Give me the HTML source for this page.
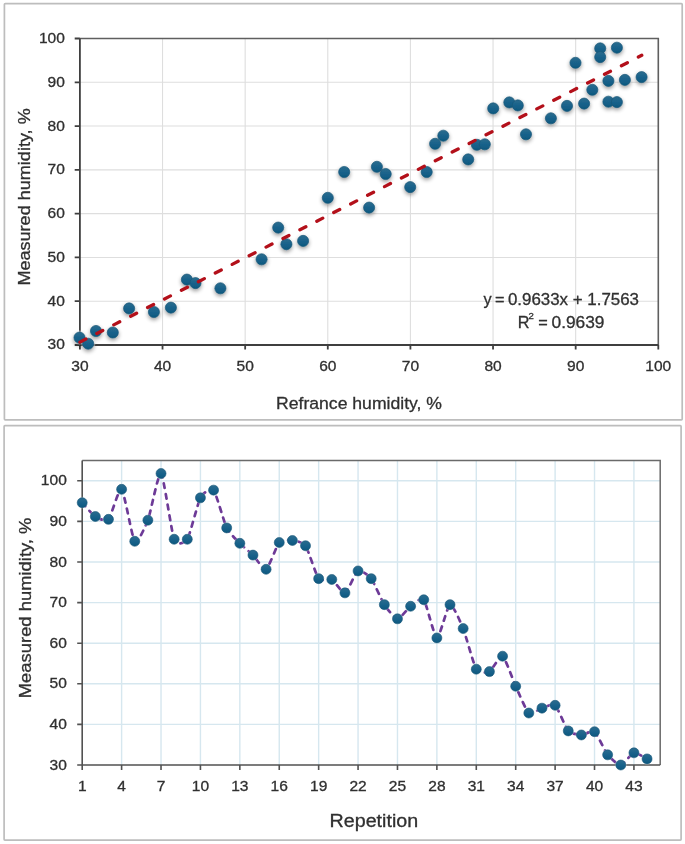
<!DOCTYPE html>
<html><head><meta charset="utf-8"><title>Humidity charts</title>
<style>
html,body{margin:0;padding:0;background:#fff;}
body{width:685px;height:844px;overflow:hidden;}
svg{display:block;font-family:"Liberation Sans", sans-serif;will-change:transform;filter:blur(0.5px);}
text{stroke:#303030;stroke-width:0.3px;}
</style></head><body>
<svg width="685" height="844" viewBox="0 0 685 844">
<defs>
<linearGradient id="mk" x1="0" y1="0" x2="0" y2="1">
<stop offset="0" stop-color="#2b6c8e"/><stop offset="0.55" stop-color="#17618a"/><stop offset="1" stop-color="#0d587e"/>
</linearGradient>
<filter id="sh" x="-50%" y="-50%" width="200%" height="200%">
<feGaussianBlur in="SourceAlpha" stdDeviation="1.9"/>
<feOffset dx="0.3" dy="2.4" result="b"/>
<feComponentTransfer><feFuncA type="linear" slope="0.42"/></feComponentTransfer>
<feMerge><feMergeNode/><feMergeNode in="SourceGraphic"/></feMerge>
</filter>
</defs>
<rect width="685" height="844" fill="#fff"/>

<rect x="4.4" y="3.7" width="677.8" height="416.1" rx="0.8" fill="#fff" stroke="#bdbdbd" stroke-width="1.7"/>
<rect x="4.1" y="425.6" width="677" height="414.5" rx="0.8" fill="#fff" stroke="#bdbdbd" stroke-width="1.7"/>
<path d="M79.9,301.21 H658.3 M79.9,257.43 H658.3 M79.9,213.64 H658.3 M79.9,169.86 H658.3 M79.9,126.07 H658.3 M79.9,82.29 H658.3 M162.53,38.5 V345 M245.16,38.5 V345 M327.79,38.5 V345 M410.41,38.5 V345 M493.04,38.5 V345 M575.67,38.5 V345" stroke="#dedede" stroke-width="1.1" fill="none"/>
<path d="M79.9,38.5 H658.3 V345" stroke="#5f5f5f" stroke-width="1.6" fill="none"/>
<path d="M79.9,38.5 V345 H658.3 M74.7,345 H79.9 M79.9,345 V349.6 M74.7,301.21 H79.9 M162.53,345 V349.6 M74.7,257.43 H79.9 M245.16,345 V349.6 M74.7,213.64 H79.9 M327.79,345 V349.6 M74.7,169.86 H79.9 M410.41,345 V349.6 M74.7,126.07 H79.9 M493.04,345 V349.6 M74.7,82.29 H79.9 M575.67,345 V349.6 M74.7,38.5 H79.9 M658.3,345 V349.6" stroke="#3f3f3f" stroke-width="1.8" fill="none"/>
<g fill="#303030" font-size="14.4">
<text transform="translate(64.9,349.45) scale(1.08,1)" text-anchor="end">30</text>
<text transform="translate(64.9,305.66) scale(1.08,1)" text-anchor="end">40</text>
<text transform="translate(64.9,261.88) scale(1.08,1)" text-anchor="end">50</text>
<text transform="translate(64.9,218.09) scale(1.08,1)" text-anchor="end">60</text>
<text transform="translate(64.9,174.31) scale(1.08,1)" text-anchor="end">70</text>
<text transform="translate(64.9,130.52) scale(1.08,1)" text-anchor="end">80</text>
<text transform="translate(64.9,86.74) scale(1.08,1)" text-anchor="end">90</text>
<text transform="translate(64.9,42.95) scale(1.08,1)" text-anchor="end">100</text>
<text transform="translate(79.9,370.5) scale(1.08,1)" text-anchor="middle">30</text>
<text transform="translate(162.53,370.5) scale(1.08,1)" text-anchor="middle">40</text>
<text transform="translate(245.16,370.5) scale(1.08,1)" text-anchor="middle">50</text>
<text transform="translate(327.79,370.5) scale(1.08,1)" text-anchor="middle">60</text>
<text transform="translate(410.41,370.5) scale(1.08,1)" text-anchor="middle">70</text>
<text transform="translate(493.04,370.5) scale(1.08,1)" text-anchor="middle">80</text>
<text transform="translate(575.67,370.5) scale(1.08,1)" text-anchor="middle">90</text>
<text transform="translate(658.3,370.5) scale(1.08,1)" text-anchor="middle">100</text>
</g>
<text x="276" y="408.6" font-size="17.2" fill="#303030" textLength="166" lengthAdjust="spacingAndGlyphs">Refrance humidity, %</text>
<text transform="translate(30.4,285.6) rotate(-90)" x="0" y="0" font-size="16.8" fill="#303030" textLength="177.3" lengthAdjust="spacingAndGlyphs">Measured humidity, %</text>
<text x="483.4" y="305.4" font-size="16.3" fill="#303030">y</text>
<text x="494.9" y="305.4" font-size="16.3" fill="#303030">=</text>
<text x="507.9" y="305.4" font-size="16.3" fill="#303030" textLength="131.1" lengthAdjust="spacingAndGlyphs">0.9633x + 1.7563</text>
<text x="517.8" y="327.9" font-size="16.3" fill="#303030">R</text>
<text x="528.6" y="319.2" font-size="9.6" fill="#303030">2</text>
<text x="538.2" y="327.9" font-size="16.3" fill="#303030">=</text>
<text x="551.5" y="327.9" font-size="16.3" fill="#303030" textLength="53" lengthAdjust="spacingAndGlyphs">0.9639</text>
<g fill="#fff" fill-opacity="0.45">
<circle cx="79.5" cy="337.6" r="7.2"/>
<circle cx="88.2" cy="343.7" r="7.2"/>
<circle cx="96" cy="331" r="7.2"/>
<circle cx="112.8" cy="332.5" r="7.2"/>
<circle cx="129.1" cy="308.4" r="7.2"/>
<circle cx="153.9" cy="312" r="7.2"/>
<circle cx="170.9" cy="307.6" r="7.2"/>
<circle cx="186.9" cy="279.6" r="7.2"/>
<circle cx="195.5" cy="283.1" r="7.2"/>
<circle cx="220.4" cy="288.3" r="7.2"/>
<circle cx="261.6" cy="259.3" r="7.2"/>
<circle cx="278.2" cy="227.6" r="7.2"/>
<circle cx="286.4" cy="244.2" r="7.2"/>
<circle cx="303.1" cy="240.9" r="7.2"/>
<circle cx="327.8" cy="197.8" r="7.2"/>
<circle cx="344.2" cy="172" r="7.2"/>
<circle cx="369.1" cy="207.6" r="7.2"/>
<circle cx="376.9" cy="166.8" r="7.2"/>
<circle cx="385.7" cy="174" r="7.2"/>
<circle cx="410.2" cy="187.1" r="7.2"/>
<circle cx="426.7" cy="172" r="7.2"/>
<circle cx="435.1" cy="143.8" r="7.2"/>
<circle cx="443.3" cy="135.7" r="7.2"/>
<circle cx="468.2" cy="159.4" r="7.2"/>
<circle cx="476.9" cy="144.8" r="7.2"/>
<circle cx="484.8" cy="144.3" r="7.2"/>
<circle cx="493.2" cy="108.4" r="7.2"/>
<circle cx="509.3" cy="102.4" r="7.2"/>
<circle cx="517.8" cy="105.4" r="7.2"/>
<circle cx="526" cy="134.3" r="7.2"/>
<circle cx="550.9" cy="118.3" r="7.2"/>
<circle cx="567" cy="105.9" r="7.2"/>
<circle cx="575.5" cy="62.8" r="7.2"/>
<circle cx="584.1" cy="103.6" r="7.2"/>
<circle cx="592.3" cy="89.8" r="7.2"/>
<circle cx="600.2" cy="48.4" r="7.2"/>
<circle cx="600.2" cy="57.1" r="7.2"/>
<circle cx="608.4" cy="80.9" r="7.2"/>
<circle cx="608.4" cy="101.7" r="7.2"/>
<circle cx="616.9" cy="47.7" r="7.2"/>
<circle cx="616.9" cy="102.1" r="7.2"/>
<circle cx="624.9" cy="79.9" r="7.2"/>
<circle cx="641.6" cy="77.1" r="7.2"/>
</g>
<g fill="url(#mk)" stroke="#1a5878" stroke-width="0.7" filter="url(#sh)">
<circle cx="79.5" cy="337.6" r="5.55"/>
<circle cx="88.2" cy="343.7" r="5.55"/>
<circle cx="96" cy="331" r="5.55"/>
<circle cx="112.8" cy="332.5" r="5.55"/>
<circle cx="129.1" cy="308.4" r="5.55"/>
<circle cx="153.9" cy="312" r="5.55"/>
<circle cx="170.9" cy="307.6" r="5.55"/>
<circle cx="186.9" cy="279.6" r="5.55"/>
<circle cx="195.5" cy="283.1" r="5.55"/>
<circle cx="220.4" cy="288.3" r="5.55"/>
<circle cx="261.6" cy="259.3" r="5.55"/>
<circle cx="278.2" cy="227.6" r="5.55"/>
<circle cx="286.4" cy="244.2" r="5.55"/>
<circle cx="303.1" cy="240.9" r="5.55"/>
<circle cx="327.8" cy="197.8" r="5.55"/>
<circle cx="344.2" cy="172" r="5.55"/>
<circle cx="369.1" cy="207.6" r="5.55"/>
<circle cx="376.9" cy="166.8" r="5.55"/>
<circle cx="385.7" cy="174" r="5.55"/>
<circle cx="410.2" cy="187.1" r="5.55"/>
<circle cx="426.7" cy="172" r="5.55"/>
<circle cx="435.1" cy="143.8" r="5.55"/>
<circle cx="443.3" cy="135.7" r="5.55"/>
<circle cx="468.2" cy="159.4" r="5.55"/>
<circle cx="476.9" cy="144.8" r="5.55"/>
<circle cx="484.8" cy="144.3" r="5.55"/>
<circle cx="493.2" cy="108.4" r="5.55"/>
<circle cx="509.3" cy="102.4" r="5.55"/>
<circle cx="517.8" cy="105.4" r="5.55"/>
<circle cx="526" cy="134.3" r="5.55"/>
<circle cx="550.9" cy="118.3" r="5.55"/>
<circle cx="567" cy="105.9" r="5.55"/>
<circle cx="575.5" cy="62.8" r="5.55"/>
<circle cx="584.1" cy="103.6" r="5.55"/>
<circle cx="592.3" cy="89.8" r="5.55"/>
<circle cx="600.2" cy="48.4" r="5.55"/>
<circle cx="600.2" cy="57.1" r="5.55"/>
<circle cx="608.4" cy="80.9" r="5.55"/>
<circle cx="608.4" cy="101.7" r="5.55"/>
<circle cx="616.9" cy="47.7" r="5.55"/>
<circle cx="616.9" cy="102.1" r="5.55"/>
<circle cx="624.9" cy="79.9" r="5.55"/>
<circle cx="641.6" cy="77.1" r="5.55"/>
</g>
<path d="M79.9,342.13 L641.77,55.32" stroke="#b3101a" stroke-width="3.3" stroke-linecap="round" stroke-dasharray="6.7 12.3" fill="none"/>
<path d="M82.2,724.4 H660.2 M82.2,683.8 H660.2 M82.2,643.2 H660.2 M82.2,602.6 H660.2 M82.2,562 H660.2 M82.2,521.4 H660.2 M82.2,480.8 H660.2 M121.61,460.5 V765 M161.02,460.5 V765 M200.43,460.5 V765 M239.84,460.5 V765 M279.25,460.5 V765 M318.65,460.5 V765 M358.06,460.5 V765 M397.47,460.5 V765 M436.88,460.5 V765 M476.29,460.5 V765 M515.7,460.5 V765 M555.11,460.5 V765 M594.52,460.5 V765 M633.93,460.5 V765" stroke="#d6e7ef" stroke-width="1.4" fill="none"/>
<path d="M82.2,460.5 H660.2 V765" stroke="#6a6a6a" stroke-width="1.5" fill="none"/>
<path d="M82.2,460.5 V765 H660.2 M77.2,765 H82.2 M77.2,724.4 H82.2 M77.2,683.8 H82.2 M77.2,643.2 H82.2 M77.2,602.6 H82.2 M77.2,562 H82.2 M77.2,521.4 H82.2 M77.2,480.8 H82.2 M82.2,765 V770.1 M121.61,765 V770.1 M161.02,765 V770.1 M200.43,765 V770.1 M239.84,765 V770.1 M279.25,765 V770.1 M318.65,765 V770.1 M358.06,765 V770.1 M397.47,765 V770.1 M436.88,765 V770.1 M476.29,765 V770.1 M515.7,765 V770.1 M555.11,765 V770.1 M594.52,765 V770.1 M633.93,765 V770.1" stroke="#525252" stroke-width="1.6" fill="none"/>
<g fill="#303030" font-size="14.4">
<text transform="translate(66.8,769.5) scale(1.08,1)" text-anchor="end">30</text>
<text transform="translate(66.8,728.9) scale(1.08,1)" text-anchor="end">40</text>
<text transform="translate(66.8,688.3) scale(1.08,1)" text-anchor="end">50</text>
<text transform="translate(66.8,647.7) scale(1.08,1)" text-anchor="end">60</text>
<text transform="translate(66.8,607.1) scale(1.08,1)" text-anchor="end">70</text>
<text transform="translate(66.8,566.5) scale(1.08,1)" text-anchor="end">80</text>
<text transform="translate(66.8,525.9) scale(1.08,1)" text-anchor="end">90</text>
<text transform="translate(66.8,485.3) scale(1.08,1)" text-anchor="end">100</text>
<text transform="translate(82.2,790.9) scale(1.08,1)" text-anchor="middle">1</text>
<text transform="translate(121.61,790.9) scale(1.08,1)" text-anchor="middle">4</text>
<text transform="translate(161.02,790.9) scale(1.08,1)" text-anchor="middle">7</text>
<text transform="translate(200.43,790.9) scale(1.08,1)" text-anchor="middle">10</text>
<text transform="translate(239.84,790.9) scale(1.08,1)" text-anchor="middle">13</text>
<text transform="translate(279.25,790.9) scale(1.08,1)" text-anchor="middle">16</text>
<text transform="translate(318.65,790.9) scale(1.08,1)" text-anchor="middle">19</text>
<text transform="translate(358.06,790.9) scale(1.08,1)" text-anchor="middle">22</text>
<text transform="translate(397.47,790.9) scale(1.08,1)" text-anchor="middle">25</text>
<text transform="translate(436.88,790.9) scale(1.08,1)" text-anchor="middle">28</text>
<text transform="translate(476.29,790.9) scale(1.08,1)" text-anchor="middle">31</text>
<text transform="translate(515.7,790.9) scale(1.08,1)" text-anchor="middle">34</text>
<text transform="translate(555.11,790.9) scale(1.08,1)" text-anchor="middle">37</text>
<text transform="translate(594.52,790.9) scale(1.08,1)" text-anchor="middle">40</text>
<text transform="translate(633.93,790.9) scale(1.08,1)" text-anchor="middle">43</text>
</g>
<text x="329.6" y="827" font-size="17.6" fill="#303030" textLength="88.6" lengthAdjust="spacingAndGlyphs">Repetition</text>
<text transform="translate(30.7,698.2) rotate(-90)" x="0" y="0" font-size="17" fill="#303030" textLength="180.6" lengthAdjust="spacingAndGlyphs">Measured humidity, %</text>
<path d="M82.2,502.72 C83.51,504.1 92.71,514.86 95.34,516.53 C97.96,518.19 105.85,522.09 108.47,519.37 C111.1,516.65 118.98,487.13 121.61,489.33 C124.24,491.52 132.12,538.21 134.75,541.29 C137.37,544.38 145.25,526.96 147.88,520.18 C150.51,513.4 158.39,471.58 161.02,473.49 C163.65,475.4 171.53,532.69 174.15,539.26 C176.78,545.84 184.66,543.41 187.29,539.26 C189.92,535.12 197.8,502.76 200.43,497.85 C203.05,492.94 210.94,487.13 213.56,490.14 C216.19,493.14 224.07,522.58 226.7,527.9 C229.33,533.21 237.21,540.6 239.84,543.32 C242.46,546.04 250.35,552.5 252.97,555.1 C255.6,557.7 263.48,570.57 266.11,569.31 C268.74,568.05 276.62,545.39 279.25,542.51 C281.87,539.63 289.75,540.16 292.38,540.48 C295.01,540.81 302.89,541.94 305.52,545.76 C308.15,549.58 316.03,575.28 318.65,578.65 C321.28,582.02 329.16,578.04 331.79,579.46 C334.42,580.88 342.3,593.71 344.93,592.86 C347.55,592 355.44,572.35 358.06,570.93 C360.69,569.51 368.57,575.28 371.2,578.65 C373.83,582.02 381.71,600.61 384.34,604.63 C386.96,608.65 394.85,618.68 397.47,618.84 C400.1,619 407.98,608.16 410.61,606.25 C413.24,604.35 421.12,596.59 423.75,599.76 C426.37,602.92 434.25,637.43 436.88,637.92 C439.51,638.41 447.39,605.56 450.02,604.63 C452.65,603.7 460.53,622.13 463.15,628.58 C465.78,635.04 473.66,664.88 476.29,669.18 C478.92,673.49 486.8,672.92 489.43,671.62 C492.05,670.32 499.94,654.73 502.56,656.19 C505.19,657.65 513.07,680.55 515.7,686.24 C518.33,691.92 526.21,710.84 528.84,713.03 C531.46,715.22 539.35,708.93 541.97,708.16 C544.6,707.39 552.48,703.04 555.11,705.32 C557.74,707.59 565.62,727.93 568.25,730.9 C570.87,733.86 578.75,734.87 581.38,734.96 C584.01,735.04 591.89,729.72 594.52,731.71 C597.15,733.7 605.03,751.52 607.65,754.85 C610.28,758.18 618.16,765.2 620.79,765 C623.42,764.8 631.3,753.43 633.93,752.82 C636.55,752.21 645.75,758.3 647.06,758.91" stroke="#6d3a97" stroke-width="2.7" stroke-linecap="round" stroke-dasharray="4.8 6.0" stroke-dashoffset="0" fill="none"/>
<g fill="#fff" fill-opacity="0.35">
<circle cx="82.2" cy="502.72" r="5.9"/>
<circle cx="95.34" cy="516.53" r="5.9"/>
<circle cx="108.47" cy="519.37" r="5.9"/>
<circle cx="121.61" cy="489.33" r="5.9"/>
<circle cx="134.75" cy="541.29" r="5.9"/>
<circle cx="147.88" cy="520.18" r="5.9"/>
<circle cx="161.02" cy="473.49" r="5.9"/>
<circle cx="174.15" cy="539.26" r="5.9"/>
<circle cx="187.29" cy="539.26" r="5.9"/>
<circle cx="200.43" cy="497.85" r="5.9"/>
<circle cx="213.56" cy="490.14" r="5.9"/>
<circle cx="226.7" cy="527.9" r="5.9"/>
<circle cx="239.84" cy="543.32" r="5.9"/>
<circle cx="252.97" cy="555.1" r="5.9"/>
<circle cx="266.11" cy="569.31" r="5.9"/>
<circle cx="279.25" cy="542.51" r="5.9"/>
<circle cx="292.38" cy="540.48" r="5.9"/>
<circle cx="305.52" cy="545.76" r="5.9"/>
<circle cx="318.65" cy="578.65" r="5.9"/>
<circle cx="331.79" cy="579.46" r="5.9"/>
<circle cx="344.93" cy="592.86" r="5.9"/>
<circle cx="358.06" cy="570.93" r="5.9"/>
<circle cx="371.2" cy="578.65" r="5.9"/>
<circle cx="384.34" cy="604.63" r="5.9"/>
<circle cx="397.47" cy="618.84" r="5.9"/>
<circle cx="410.61" cy="606.25" r="5.9"/>
<circle cx="423.75" cy="599.76" r="5.9"/>
<circle cx="436.88" cy="637.92" r="5.9"/>
<circle cx="450.02" cy="604.63" r="5.9"/>
<circle cx="463.15" cy="628.58" r="5.9"/>
<circle cx="476.29" cy="669.18" r="5.9"/>
<circle cx="489.43" cy="671.62" r="5.9"/>
<circle cx="502.56" cy="656.19" r="5.9"/>
<circle cx="515.7" cy="686.24" r="5.9"/>
<circle cx="528.84" cy="713.03" r="5.9"/>
<circle cx="541.97" cy="708.16" r="5.9"/>
<circle cx="555.11" cy="705.32" r="5.9"/>
<circle cx="568.25" cy="730.9" r="5.9"/>
<circle cx="581.38" cy="734.96" r="5.9"/>
<circle cx="594.52" cy="731.71" r="5.9"/>
<circle cx="607.65" cy="754.85" r="5.9"/>
<circle cx="620.79" cy="765" r="5.9"/>
<circle cx="633.93" cy="752.82" r="5.9"/>
<circle cx="647.06" cy="758.91" r="5.9"/>
</g>
<g fill="url(#mk)" stroke="#1a5878" stroke-width="0.6">
<circle cx="82.2" cy="502.72" r="5.0"/>
<circle cx="95.34" cy="516.53" r="5.0"/>
<circle cx="108.47" cy="519.37" r="5.0"/>
<circle cx="121.61" cy="489.33" r="5.0"/>
<circle cx="134.75" cy="541.29" r="5.0"/>
<circle cx="147.88" cy="520.18" r="5.0"/>
<circle cx="161.02" cy="473.49" r="5.0"/>
<circle cx="174.15" cy="539.26" r="5.0"/>
<circle cx="187.29" cy="539.26" r="5.0"/>
<circle cx="200.43" cy="497.85" r="5.0"/>
<circle cx="213.56" cy="490.14" r="5.0"/>
<circle cx="226.7" cy="527.9" r="5.0"/>
<circle cx="239.84" cy="543.32" r="5.0"/>
<circle cx="252.97" cy="555.1" r="5.0"/>
<circle cx="266.11" cy="569.31" r="5.0"/>
<circle cx="279.25" cy="542.51" r="5.0"/>
<circle cx="292.38" cy="540.48" r="5.0"/>
<circle cx="305.52" cy="545.76" r="5.0"/>
<circle cx="318.65" cy="578.65" r="5.0"/>
<circle cx="331.79" cy="579.46" r="5.0"/>
<circle cx="344.93" cy="592.86" r="5.0"/>
<circle cx="358.06" cy="570.93" r="5.0"/>
<circle cx="371.2" cy="578.65" r="5.0"/>
<circle cx="384.34" cy="604.63" r="5.0"/>
<circle cx="397.47" cy="618.84" r="5.0"/>
<circle cx="410.61" cy="606.25" r="5.0"/>
<circle cx="423.75" cy="599.76" r="5.0"/>
<circle cx="436.88" cy="637.92" r="5.0"/>
<circle cx="450.02" cy="604.63" r="5.0"/>
<circle cx="463.15" cy="628.58" r="5.0"/>
<circle cx="476.29" cy="669.18" r="5.0"/>
<circle cx="489.43" cy="671.62" r="5.0"/>
<circle cx="502.56" cy="656.19" r="5.0"/>
<circle cx="515.7" cy="686.24" r="5.0"/>
<circle cx="528.84" cy="713.03" r="5.0"/>
<circle cx="541.97" cy="708.16" r="5.0"/>
<circle cx="555.11" cy="705.32" r="5.0"/>
<circle cx="568.25" cy="730.9" r="5.0"/>
<circle cx="581.38" cy="734.96" r="5.0"/>
<circle cx="594.52" cy="731.71" r="5.0"/>
<circle cx="607.65" cy="754.85" r="5.0"/>
<circle cx="620.79" cy="765" r="5.0"/>
<circle cx="633.93" cy="752.82" r="5.0"/>
<circle cx="647.06" cy="758.91" r="5.0"/>
</g>
</svg>
</body></html>
